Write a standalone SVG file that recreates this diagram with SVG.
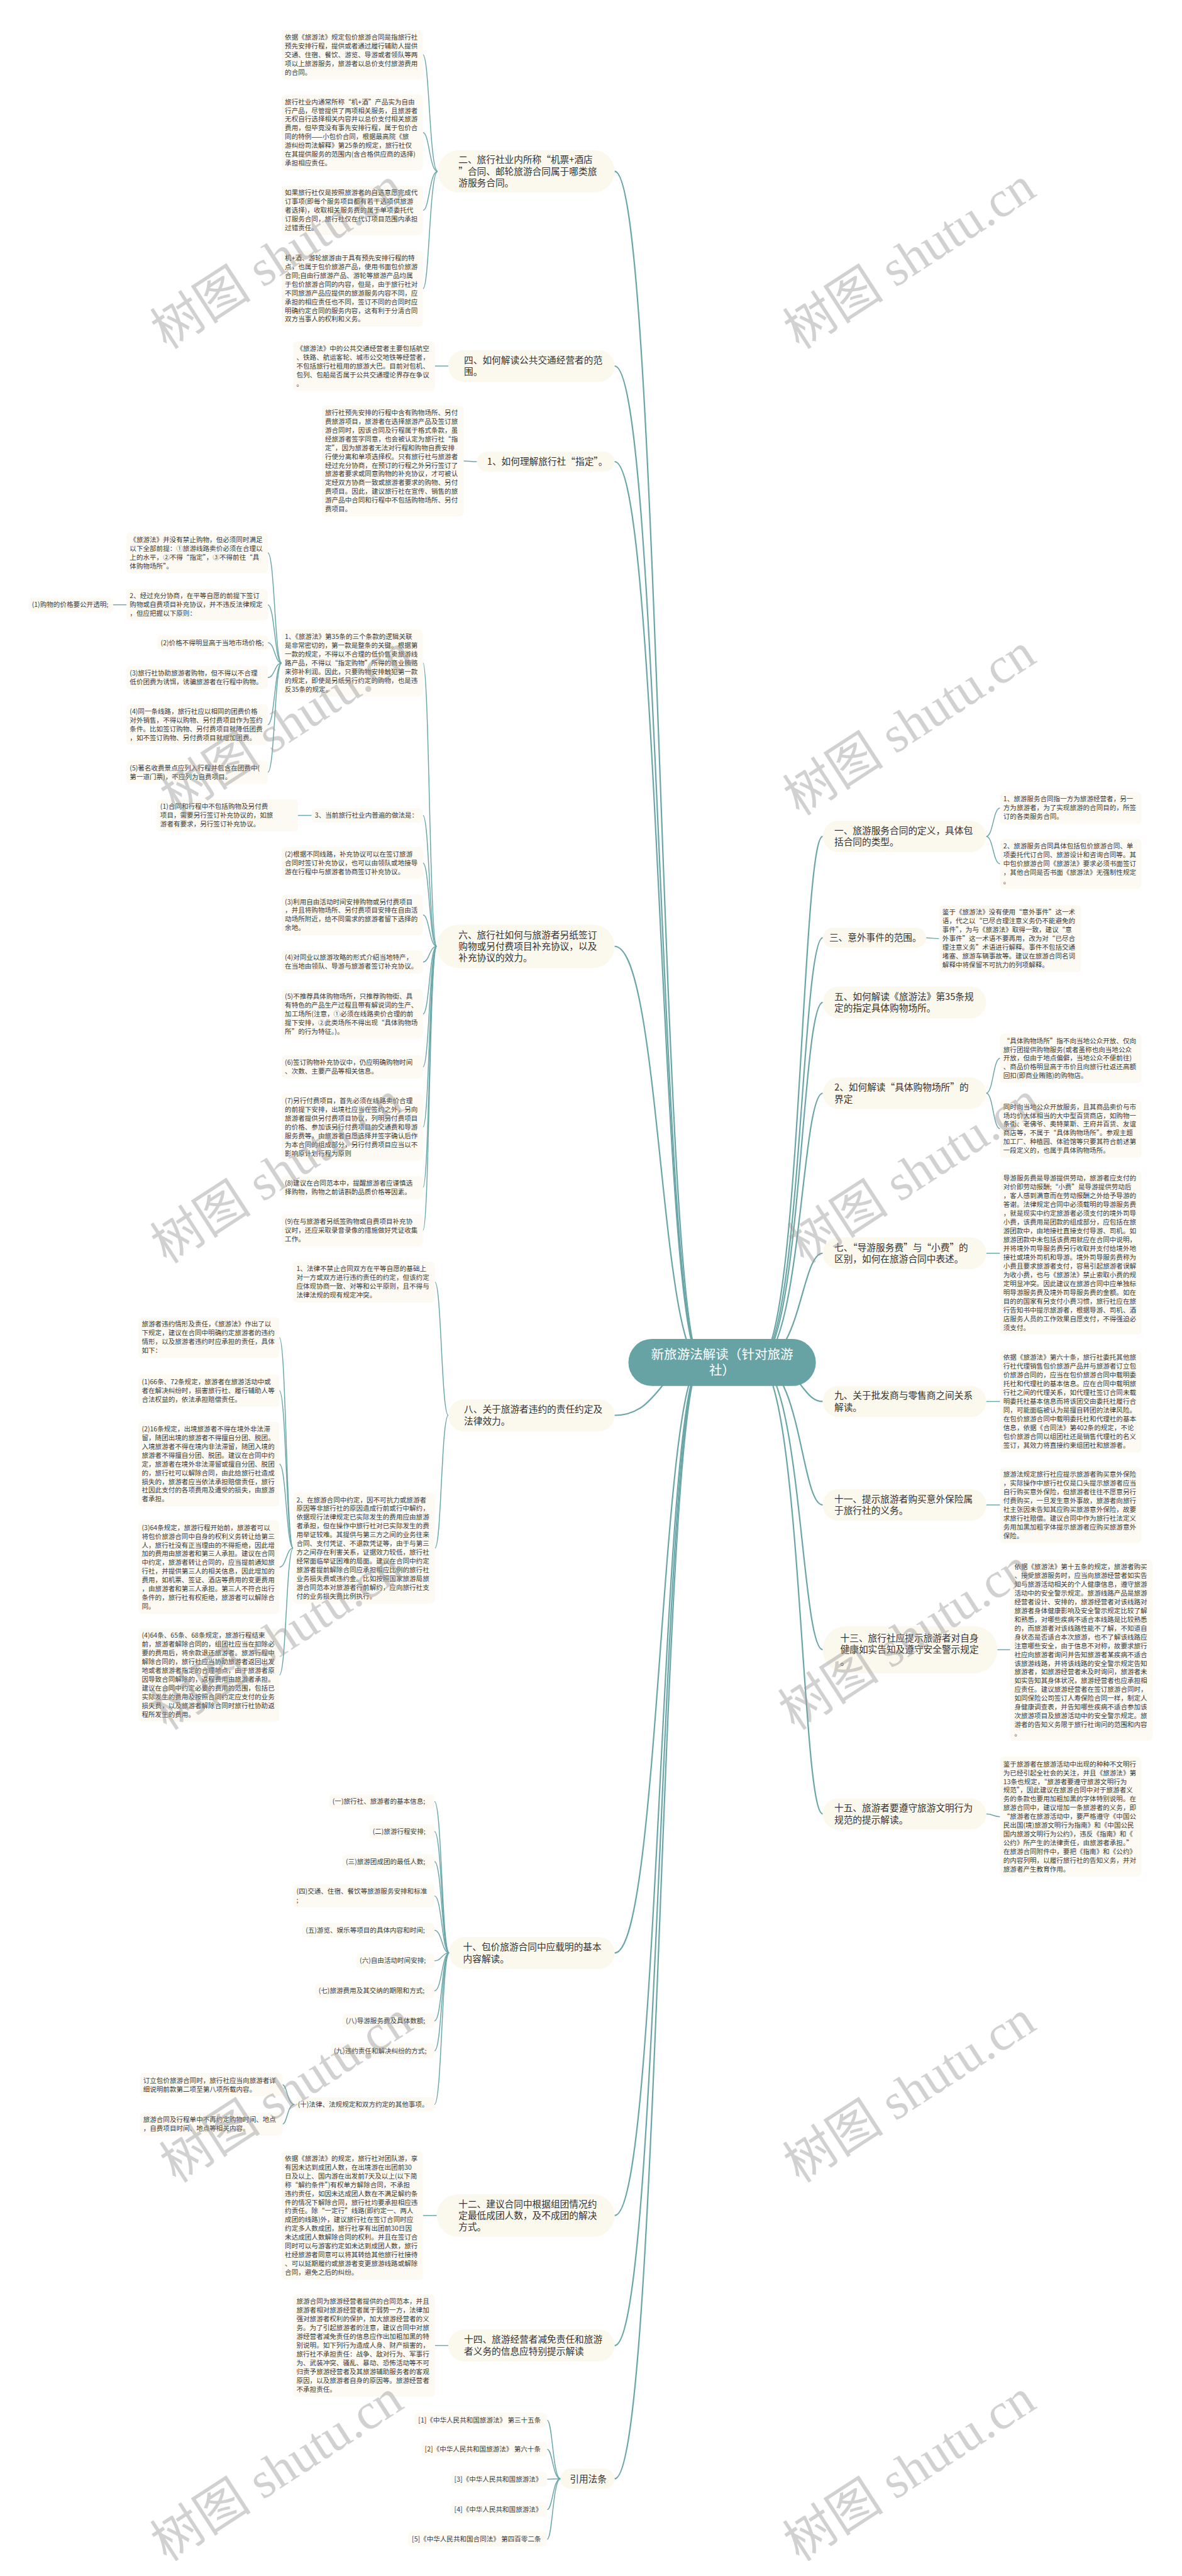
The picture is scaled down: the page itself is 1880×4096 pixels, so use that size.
<svg xmlns="http://www.w3.org/2000/svg" width="1880" height="4096" viewBox="0 0 1880 4096">
<style>
.bn{fill:#fbf8ee}
.dt{fill:#fcfaf2}
.rt{fill:#67a3a4}
.tb{font-family:"Noto Sans CJK SC","Noto Sans",sans-serif;font-size:20px;fill:#333}
.td{font-family:"Noto Sans CJK SC","Noto Sans",sans-serif;font-size:14.4px;fill:#3a3a3a}
.tr{font-family:"Noto Sans CJK SC","Noto Sans",sans-serif;font-size:28px;fill:#fff}
.c1{fill:none;stroke:#6aa6a8;stroke-width:3}
.c2{fill:none;stroke:#6aa6a8;stroke-width:2}
.wm{font-family:"Liberation Serif","Noto Sans CJK SC",serif;font-size:110px;fill:#9a9a9a;fill-opacity:0.45}
</style>
<rect width="1880" height="4096" fill="#fff"/>
<g transform="scale(0.734375)">
<g id="connectors">
<path class="c1" d="M1331,371 C1430,371 1430,2950 1520,2950"/>
<path class="c1" d="M1331,792.5 C1430,792.5 1430,2950 1520,2950"/>
<path class="c1" d="M1331,999.5 C1430,999.5 1430,2950 1520,2950"/>
<path class="c1" d="M1331,2049 C1430,2049 1430,2950 1520,2950"/>
<path class="c1" d="M1331,3064.5 C1430,3064.5 1430,2950 1520,2950"/>
<path class="c1" d="M1331,4228.5 C1430,4228.5 1430,2950 1520,2950"/>
<path class="c1" d="M1331,4797 C1430,4797 1430,2950 1520,2950"/>
<path class="c1" d="M1331,5078.5 C1430,5078.5 1430,2950 1520,2950"/>
<path class="c1" d="M1331,5367 C1430,5367 1430,2950 1520,2950"/>
<path class="c1" d="M1782,1811 C1735,1811 1735,2950 1640,2950"/>
<path class="c1" d="M1782,2030.5 C1735,2030.5 1735,2950 1640,2950"/>
<path class="c1" d="M1782,2170.5 C1735,2170.5 1735,2950 1640,2950"/>
<path class="c1" d="M1782,2367 C1735,2367 1735,2950 1640,2950"/>
<path class="c1" d="M1782,2713.5 C1735,2713.5 1735,2950 1640,2950"/>
<path class="c1" d="M1782,3034.5 C1735,3034.5 1735,2950 1640,2950"/>
<path class="c1" d="M1782,3258.5 C1735,3258.5 1735,2950 1640,2950"/>
<path class="c1" d="M1782,3572 C1735,3572 1735,2950 1640,2950"/>
<path class="c1" d="M1782,3927.5 C1735,3927.5 1735,2950 1640,2950"/>
<path class="c2" d="M948,371 C930,371 930,118.5 916,118.5"/>
<path class="c2" d="M948,371 C930,371 930,287 916,287"/>
<path class="c2" d="M948,371 C930,371 930,455.5 916,455.5"/>
<path class="c2" d="M948,371 C930,371 930,625 916,625"/>
<path class="c2" d="M971,792.5 L942,792.5"/>
<path class="c2" d="M1033,999.5 C1018,999.5 1018,998 1004,998"/>
<path class="c2" d="M946,2049 C930,2049 930,1435.5 916,1435.5"/>
<path class="c2" d="M946,2049 C930,2049 930,1765.5 916,1765.5"/>
<path class="c2" d="M946,2049 C930,2049 930,1868.5 916,1868.5"/>
<path class="c2" d="M946,2049 C930,2049 930,1981 916,1981"/>
<path class="c2" d="M946,2049 C930,2049 930,2083 916,2083"/>
<path class="c2" d="M946,2049 C930,2049 930,2195.5 916,2195.5"/>
<path class="c2" d="M946,2049 C930,2049 930,2310 916,2310"/>
<path class="c2" d="M946,2049 C930,2049 930,2440.5 916,2440.5"/>
<path class="c2" d="M946,2049 C930,2049 930,2571 916,2571"/>
<path class="c2" d="M946,2049 C930,2049 930,2663.5 916,2663.5"/>
<path class="c2" d="M610,1435.5 C595,1435.5 595,1197 580,1197"/>
<path class="c2" d="M610,1435.5 C595,1435.5 595,1309.5 580,1309.5"/>
<path class="c2" d="M610,1435.5 C595,1435.5 595,1391.5 580,1391.5"/>
<path class="c2" d="M610,1435.5 C595,1435.5 595,1467 580,1467"/>
<path class="c2" d="M610,1435.5 C595,1435.5 595,1569 580,1569"/>
<path class="c2" d="M610,1435.5 C595,1435.5 595,1672 580,1672"/>
<path class="c2" d="M274,1309.5 L245,1309.5"/>
<path class="c2" d="M675,1765.5 L645,1765.5"/>
<path class="c2" d="M971,3064.5 C956,3064.5 956,2776 942,2776"/>
<path class="c2" d="M971,3064.5 C956,3064.5 956,3352 942,3352"/>
<path class="c2" d="M635,3352 C620,3352 620,2896 605,2896"/>
<path class="c2" d="M635,3352 C620,3352 620,3011 605,3011"/>
<path class="c2" d="M635,3352 C620,3352 620,3170 605,3170"/>
<path class="c2" d="M635,3352 C620,3352 620,3393 605,3393"/>
<path class="c2" d="M635,3352 C620,3352 620,3627 605,3627"/>
<path class="c2" d="M973,4228.5 C957,4228.5 957,3900.5 941,3900.5"/>
<path class="c2" d="M973,4228.5 C957,4228.5 957,3965.5 941,3965.5"/>
<path class="c2" d="M973,4228.5 C957,4228.5 957,4030.5 941,4030.5"/>
<path class="c2" d="M973,4228.5 C957,4228.5 957,4105 941,4105"/>
<path class="c2" d="M973,4228.5 C957,4228.5 957,4179.5 941,4179.5"/>
<path class="c2" d="M973,4228.5 C957,4228.5 957,4245.5 941,4245.5"/>
<path class="c2" d="M973,4228.5 C957,4228.5 957,4310.5 941,4310.5"/>
<path class="c2" d="M973,4228.5 C957,4228.5 957,4375.5 941,4375.5"/>
<path class="c2" d="M973,4228.5 C957,4228.5 957,4440.5 941,4440.5"/>
<path class="c2" d="M973,4228.5 C957,4228.5 957,4556.5 941,4556.5"/>
<path class="c2" d="M638,4556.5 C622,4556.5 622,4514 612,4514"/>
<path class="c2" d="M638,4556.5 C622,4556.5 622,4599 612,4599"/>
<path class="c2" d="M946,4797 L916,4797"/>
<path class="c2" d="M971,5078.5 L942,5078.5"/>
<path class="c2" d="M1214,5367 C1197,5367 1197,5240 1185,5240"/>
<path class="c2" d="M1214,5367 C1197,5367 1197,5303 1185,5303"/>
<path class="c2" d="M1214,5367 C1197,5367 1197,5368 1185,5368"/>
<path class="c2" d="M1214,5367 C1197,5367 1197,5434 1185,5434"/>
<path class="c2" d="M1214,5367 C1197,5367 1197,5498 1185,5498"/>
<path class="c2" d="M2136,1811 C2151,1811 2151,1749.5 2166,1749.5"/>
<path class="c2" d="M2136,1811 C2151,1811 2151,1870.5 2166,1870.5"/>
<path class="c2" d="M2006,2030.5 C2020,2030.5 2020,2032.5 2034,2032.5"/>
<path class="c2" d="M2136,2367 C2151,2367 2151,2291.5 2166,2291.5"/>
<path class="c2" d="M2136,2367 C2151,2367 2151,2444 2166,2444"/>
<path class="c2" d="M2136,2713.5 L2166,2713.5"/>
<path class="c2" d="M2136,3034.5 L2166,3034.5"/>
<path class="c2" d="M2136,3258.5 L2166,3258.5"/>
<path class="c2" d="M2160,3572 L2188,3572"/>
<path class="c2" d="M2136,3927.5 C2151,3927.5 2151,3933.5 2166,3933.5"/>
</g>

<g id="root">
<rect class="rt" x="1361" y="2899" width="406" height="102" rx="51"/>
<text class="tr" text-anchor="middle"><tspan x="1564" y="2943">新旅游法解读（针对旅游</tspan><tspan x="1564" y="2977">社）</tspan></text>
</g>

<g id="b2">
<rect class="bn" x="948" y="325" width="383" height="92" rx="46"/>
<text class="tb"><tspan x="993" y="353">二、旅行社业内所称“机票+酒店</tspan><tspan x="993" y="378">”合同、邮轮旅游合同属于哪类旅</tspan><tspan x="993" y="403">游服务合同。</tspan></text>
</g>
<g id="b2a">
<rect class="dt" x="610" y="65" width="306" height="107" rx="8"/>
<text class="td"><tspan x="617" y="85.5">依据《旅游法》规定包价旅游合同是指旅行社</tspan><tspan x="617" y="104.5">预先安排行程，提供或者通过履行辅助人提供</tspan><tspan x="617" y="123.5">交通、住宿、餐饮、游览、导游或者领队等两</tspan><tspan x="617" y="142.5">项以上旅游服务，旅游者以总价支付旅游费用</tspan><tspan x="617" y="161.5">的合同。</tspan></text>
</g>
<g id="b2b">
<rect class="dt" x="610" y="205" width="306" height="164" rx="8"/>
<text class="td"><tspan x="617" y="225.5">旅行社业内通常所称“机+酒”产品实为自由</tspan><tspan x="617" y="244.5">行产品，尽管提供了两项相关服务，且旅游者</tspan><tspan x="617" y="263.5">无权自行选择相关内容并以总价支付相关旅游</tspan><tspan x="617" y="282.5">费用，但毕竟没有事先安排行程，属于包价合</tspan><tspan x="617" y="301.5">同的特例——小包价合同，根据最高院《旅</tspan><tspan x="617" y="320.5">游纠纷司法解释》第25条的规定，旅行社仅</tspan><tspan x="617" y="339.5">在其提供服务的范围内(含合格供应商的选择)</tspan><tspan x="617" y="358.5">承担相应责任。</tspan></text>
</g>
<g id="b2c">
<rect class="dt" x="610" y="402" width="306" height="107" rx="8"/>
<text class="td"><tspan x="617" y="422.5">如果旅行社仅是按照旅游者的自选意愿完成代</tspan><tspan x="617" y="441.5">订事项(即每个服务项目都有若干选项供旅游</tspan><tspan x="617" y="460.5">者选择)，收取相关服务费的属于单项委托代</tspan><tspan x="617" y="479.5">订服务合同，旅行社仅在代订项目范围内承担</tspan><tspan x="617" y="498.5">过错责任。</tspan></text>
</g>
<g id="b2d">
<rect class="dt" x="610" y="543" width="306" height="164" rx="8"/>
<text class="td"><tspan x="617" y="563.5">机+酒、游轮旅游由于具有预先安排行程的特</tspan><tspan x="617" y="582.5">点，也属于包价旅游产品，使用书面包价旅游</tspan><tspan x="617" y="601.5">合同;自由行旅游产品、游轮等旅游产品均属</tspan><tspan x="617" y="620.5">于包价旅游合同的内容，但是，由于旅行社对</tspan><tspan x="617" y="639.5">不同旅游产品应提供的旅游服务内容不同，应</tspan><tspan x="617" y="658.5">承担的相应责任也不同，签订不同的合同时应</tspan><tspan x="617" y="677.5">明确约定合同的服务内容，这有利于分清合同</tspan><tspan x="617" y="696.5">双方当事人的权利和义务。</tspan></text>
</g>

<g id="b4">
<rect class="bn" x="971" y="758" width="360" height="69" rx="34"/>
<text class="tb"><tspan x="1005" y="787">四、如何解读公共交通经营者的范</tspan><tspan x="1005" y="812">围。</tspan></text>
</g>
<g id="b4a">
<rect class="dt" x="635" y="739" width="307" height="107" rx="8"/>
<text class="td"><tspan x="642" y="759.5">《旅游法》中的公共交通经营者主要包括航空</tspan><tspan x="642" y="778.5">、铁路、航运客轮、城市公交地铁等经营者，</tspan><tspan x="642" y="797.5">不包括旅行社租用的旅游大巴。目前对包机、</tspan><tspan x="642" y="816.5">包列、包船是否属于公共交通理论界存在争议</tspan><tspan x="642" y="835.5">。</tspan></text>
</g>

<g id="bz">
<rect class="bn" x="1033" y="978" width="298" height="43" rx="21.5"/>
<text class="tb"><tspan x="1055" y="1006.5">1、如何理解旅行社“指定”。</tspan></text>
</g>
<g id="bza">
<rect class="dt" x="697" y="878" width="307" height="240" rx="8"/>
<text class="td"><tspan x="704" y="898.5">旅行社预先安排的行程中含有购物场所、另付</tspan><tspan x="704" y="917.5">费旅游项目，旅游者在选择旅游产品及签订旅</tspan><tspan x="704" y="936.5">游合同时，因该合同及行程属于格式条款，虽</tspan><tspan x="704" y="955.5">经旅游者签字同意，也会被认定为旅行社“指</tspan><tspan x="704" y="974.5">定”，因为旅游者无法对行程和购物自费安排</tspan><tspan x="704" y="993.5">行使分离和单项选择权。只有旅行社与旅游者</tspan><tspan x="704" y="1012.5">经过充分协商，在预订的行程之外另行签订了</tspan><tspan x="704" y="1031.5">旅游者要求或同意购物的补充协议，才可被认</tspan><tspan x="704" y="1050.5">定经双方协商一致或旅游者要求的购物、另付</tspan><tspan x="704" y="1069.5">费项目。因此，建议旅行社在宣传、销售的旅</tspan><tspan x="704" y="1088.5">游产品中合同和行程中不包括购物场所、另付</tspan><tspan x="704" y="1107.5">费项目。</tspan></text>
</g>

<g id="b6">
<rect class="bn" x="946" y="2002" width="385" height="94" rx="47"/>
<text class="tb"><tspan x="993" y="2031">六、旅行社如何与旅游者另纸签订</tspan><tspan x="993" y="2056">购物或另付费项目补充协议，以及</tspan><tspan x="993" y="2081">补充协议的效力。</tspan></text>
</g>
<g id="b6-1">
<rect class="dt" x="610" y="1363" width="306" height="145" rx="8"/>
<text class="td"><tspan x="617" y="1383.5">1、《旅游法》第35条的三个条款的逻辑关联</tspan><tspan x="617" y="1402.5">是非常密切的，第一款是整条的关键。根据第</tspan><tspan x="617" y="1421.5">一款的规定，不得以不合理的低价售卖旅游线</tspan><tspan x="617" y="1440.5">路产品，不得以“指定购物”所得的商业贿赂</tspan><tspan x="617" y="1459.5">来弥补利润。因此，只要购物安排触犯第一款</tspan><tspan x="617" y="1478.5">的规定，即使是另纸另行约定的购物，也是违</tspan><tspan x="617" y="1497.5">反35条的规定。</tspan></text>
</g>
<g id="b6-1a">
<rect class="dt" x="274" y="1153" width="306" height="88" rx="8"/>
<text class="td"><tspan x="281" y="1173.5">《旅游法》并没有禁止购物，但必须同时满足</tspan><tspan x="281" y="1192.5">以下全部前提：①旅游线路卖价必须在合理以</tspan><tspan x="281" y="1211.5">上的水平，②不得“指定”，③不得前往“具</tspan><tspan x="281" y="1230.5">体购物场所”。</tspan></text>
</g>
<g id="b6-1b">
<rect class="dt" x="274" y="1275" width="306" height="69" rx="8"/>
<text class="td"><tspan x="281" y="1295.5">2、经过充分协商，在平等自愿的前提下签订</tspan><tspan x="281" y="1314.5">购物或自费项目补充协议，并不违反法律规定</tspan><tspan x="281" y="1333.5">，但应把握以下原则：</tspan></text>
</g>
<g id="b6-1b1">
<rect class="dt" x="62" y="1294" width="183" height="31" rx="8"/>
<text class="td"><tspan x="69" y="1314.5">(1)购物的价格要公开透明;</tspan></text>
</g>
<g id="b6-1c">
<rect class="dt" x="341" y="1376" width="239" height="31" rx="8"/>
<text class="td"><tspan x="348" y="1396.5">(2)价格不得明显高于当地市场价格;</tspan></text>
</g>
<g id="b6-1d">
<rect class="dt" x="274" y="1442" width="306" height="50" rx="8"/>
<text class="td"><tspan x="281" y="1462.5">(3)旅行社协助旅游者购物，但不得以不合理</tspan><tspan x="281" y="1481.5">低价团费为诱饵，诱骗旅游者在行程中购物。</tspan></text>
</g>
<g id="b6-1e">
<rect class="dt" x="274" y="1525" width="306" height="88" rx="8"/>
<text class="td"><tspan x="281" y="1545.5">(4)同一条线路，旅行社应以相同的团费价格</tspan><tspan x="281" y="1564.5">对外销售，不得以购物、另付费项目作为签约</tspan><tspan x="281" y="1583.5">条件。比如签订购物、另付费项目就降低团费</tspan><tspan x="281" y="1602.5">，如不签订购物、另付费项目就增加团费。</tspan></text>
</g>
<g id="b6-1f">
<rect class="dt" x="274" y="1647" width="306" height="50" rx="8"/>
<text class="td"><tspan x="281" y="1667.5">(5)著名收费景点应列入行程并包含在团费中(</tspan><tspan x="281" y="1686.5">第一道门票)，不应列为自费项目。</tspan></text>
</g>
<g id="b6-3">
<rect class="dt" x="675" y="1750" width="241" height="31" rx="8"/>
<text class="td"><tspan x="682" y="1770.5">3、当前旅行社业内普遍的做法是：</tspan></text>
</g>
<g id="b6-3a">
<rect class="dt" x="340" y="1731" width="305" height="69" rx="8"/>
<text class="td"><tspan x="347" y="1751.5">(1)合同和行程中不包括购物及另付费</tspan><tspan x="347" y="1770.5">项目，需要另行签订补充协议的，如旅</tspan><tspan x="347" y="1789.5">游者有要求，另行签订补充协议。</tspan></text>
</g>
<g id="b6-p2">
<rect class="dt" x="610" y="1834" width="306" height="69" rx="8"/>
<text class="td"><tspan x="617" y="1854.5">(2)根据不同线路，补充协议可以在签订旅游</tspan><tspan x="617" y="1873.5">合同时签订补充协议，也可以由领队或地接导</tspan><tspan x="617" y="1892.5">游在行程中与旅游者协商签订补充协议。</tspan></text>
</g>
<g id="b6-p3">
<rect class="dt" x="610" y="1937" width="306" height="88" rx="8"/>
<text class="td"><tspan x="617" y="1957.5">(3)利用自由活动时间安排购物或另付费项目</tspan><tspan x="617" y="1976.5">，并且将购物场所、另付费项目安排在自由活</tspan><tspan x="617" y="1995.5">动场所附近，给不同需求的旅游者留下选择的</tspan><tspan x="617" y="2014.5">余地。</tspan></text>
</g>
<g id="b6-p4">
<rect class="dt" x="610" y="2058" width="306" height="50" rx="8"/>
<text class="td"><tspan x="617" y="2078.5">(4)对同业以旅游攻略的形式介绍当地特产，</tspan><tspan x="617" y="2097.5">在当地由领队、导游与旅游者签订补充协议。</tspan></text>
</g>
<g id="b6-p5">
<rect class="dt" x="610" y="2142" width="306" height="107" rx="8"/>
<text class="td"><tspan x="617" y="2162.5">(5)不推荐具体购物场所，只推荐购物街、具</tspan><tspan x="617" y="2181.5">有特色的产品生产过程且带有解说词的生产、</tspan><tspan x="617" y="2200.5">加工场所(注意，①必须在线路卖价合理的前</tspan><tspan x="617" y="2219.5">提下安排，②此类场所不得出现“具体购物场</tspan><tspan x="617" y="2238.5">所”的行为特征。)。</tspan></text>
</g>
<g id="b6-p6">
<rect class="dt" x="610" y="2285" width="306" height="50" rx="8"/>
<text class="td"><tspan x="617" y="2305.5">(6)签订购物补充协议中，仍应明确购物时间</tspan><tspan x="617" y="2324.5">、次数、主要产品等相关信息。</tspan></text>
</g>
<g id="b6-p7">
<rect class="dt" x="610" y="2368" width="306" height="145" rx="8"/>
<text class="td"><tspan x="617" y="2388.5">(7)另行付费项目，首先必须在线路卖价合理</tspan><tspan x="617" y="2407.5">的前提下安排，出境社应当在签约之外，另向</tspan><tspan x="617" y="2426.5">旅游者提供另付费项目协议，列明另付费项目</tspan><tspan x="617" y="2445.5">的价格、参加该另行付费项目的交通费和导游</tspan><tspan x="617" y="2464.5">服务费等，由旅游者自愿选择并签字确认后作</tspan><tspan x="617" y="2483.5">为本合同的组成部分，另行付费项目应当以不</tspan><tspan x="617" y="2502.5">影响原计划行程为原则</tspan></text>
</g>
<g id="b6-p8">
<rect class="dt" x="610" y="2546" width="306" height="50" rx="8"/>
<text class="td"><tspan x="617" y="2566.5">(8)建议在合同范本中，提醒旅游者应谨慎选</tspan><tspan x="617" y="2585.5">择购物，购物之前请斟酌品质价格等因素。</tspan></text>
</g>
<g id="b6-p9">
<rect class="dt" x="610" y="2629" width="306" height="69" rx="8"/>
<text class="td"><tspan x="617" y="2649.5">(9)在与旅游者另纸签购物或自费项目补充协</tspan><tspan x="617" y="2668.5">议时，还应采取录音录像的措施做好凭证收集</tspan><tspan x="617" y="2687.5">工作。</tspan></text>
</g>

<g id="b8">
<rect class="bn" x="971" y="3030" width="360" height="69" rx="34"/>
<text class="tb"><tspan x="1005" y="3059">八、关于旅游者违约的责任约定及</tspan><tspan x="1005" y="3084">法律效力。</tspan></text>
</g>
<g id="b8-1">
<rect class="dt" x="635" y="2732" width="307" height="88" rx="8"/>
<text class="td"><tspan x="642" y="2752.5">1、法律不禁止合同双方在平等自愿的基础上</tspan><tspan x="642" y="2771.5">对一方或双方进行违约责任的约定，但该约定</tspan><tspan x="642" y="2790.5">应体现协商一致、对等和公平原则，且不得与</tspan><tspan x="642" y="2809.5">法律法规的现有规定冲突。</tspan></text>
</g>
<g id="b8-2">
<rect class="dt" x="635" y="3232" width="307" height="240" rx="8"/>
<text class="td"><tspan x="642" y="3252.5">2、在旅游合同中约定，因不可抗力或旅游者</tspan><tspan x="642" y="3271.5">原因等非旅行社的原因造成行前或行中解约，</tspan><tspan x="642" y="3290.5">依据现行法律规定已实际发生的费用应由旅游</tspan><tspan x="642" y="3309.5">者承担，但在操作中旅行社对已实际发生的费</tspan><tspan x="642" y="3328.5">用举证较难。其提供与第三方之间的业务往来</tspan><tspan x="642" y="3347.5">合同、支付凭证、不退款凭证等，由于与第三</tspan><tspan x="642" y="3366.5">方之间存在利害关系，证据效力较低，旅行社</tspan><tspan x="642" y="3385.5">经常面临举证困难的局面。建议在合同中约定</tspan><tspan x="642" y="3404.5">旅游者提前解除合同应承担相应比例的旅行社</tspan><tspan x="642" y="3423.5">业务损失费或违约金。比如按照国家旅游局旅</tspan><tspan x="642" y="3442.5">游合同范本对旅游者行前解约，应向旅行社支</tspan><tspan x="642" y="3461.5">付的业务损失费比例执行。</tspan></text>
</g>
<g id="b8-2a">
<rect class="dt" x="300" y="2852" width="305" height="88" rx="8"/>
<text class="td"><tspan x="307" y="2872.5">旅游者违约情形及责任，《旅游法》作出了以</tspan><tspan x="307" y="2891.5">下规定，建议在合同中明确约定旅游者的违约</tspan><tspan x="307" y="2910.5">情形，以及旅游者违约时应承担的责任，具体</tspan><tspan x="307" y="2929.5">如下：</tspan></text>
</g>
<g id="b8-2b">
<rect class="dt" x="300" y="2976.5" width="305" height="69" rx="8"/>
<text class="td"><tspan x="307" y="2997">(1)66条、72条规定，旅游者在旅游活动中或</tspan><tspan x="307" y="3016">者在解决纠纷时，损害旅行社、履行辅助人等</tspan><tspan x="307" y="3035">合法权益的，依法承担赔偿责任。</tspan></text>
</g>
<g id="b8-2c">
<rect class="dt" x="300" y="3078.5" width="305" height="183" rx="8"/>
<text class="td"><tspan x="307" y="3099">(2)16条规定，出境旅游者不得在境外非法滞</tspan><tspan x="307" y="3118">留，随团出境的旅游者不得擅自分团、脱团。</tspan><tspan x="307" y="3137">入境旅游者不得在境内非法滞留，随团入境的</tspan><tspan x="307" y="3156">旅游者不得擅自分团、脱团。建议在合同中约</tspan><tspan x="307" y="3175">定，旅游者在境外非法滞留或擅自分团、脱团</tspan><tspan x="307" y="3194">的，旅行社可以解除合同，由此给旅行社造成</tspan><tspan x="307" y="3213">损失的，旅游者应当依法承担赔偿责任，旅行</tspan><tspan x="307" y="3232">社因此支付的各项费用及遭受的损失，由旅游</tspan><tspan x="307" y="3251">者承担。</tspan></text>
</g>
<g id="b8-2d">
<rect class="dt" x="300" y="3292" width="305" height="202" rx="8"/>
<text class="td"><tspan x="307" y="3312.5">(3)64条规定，旅游行程开始前，旅游者可以</tspan><tspan x="307" y="3331.5">将包价旅游合同中自身的权利义务转让给第三</tspan><tspan x="307" y="3350.5">人，旅行社没有正当理由的不得拒绝，因此增</tspan><tspan x="307" y="3369.5">加的费用由旅游者和第三人承担。建议在合同</tspan><tspan x="307" y="3388.5">中约定，旅游者转让合同的，应当提前通知旅</tspan><tspan x="307" y="3407.5">行社，并提供第三人的相关信息，因此增加的</tspan><tspan x="307" y="3426.5">费用，如机票、签证、酒店等费用的变更费用</tspan><tspan x="307" y="3445.5">，由旅游者和第三人承担。第三人不符合出行</tspan><tspan x="307" y="3464.5">条件的，旅行社有权拒绝，旅游者可以解除合</tspan><tspan x="307" y="3483.5">同。</tspan></text>
</g>
<g id="b8-2e">
<rect class="dt" x="300" y="3526" width="305" height="202" rx="8"/>
<text class="td"><tspan x="307" y="3546.5">(4)64条、65条、68条规定，旅游行程结束</tspan><tspan x="307" y="3565.5">前，旅游者解除合同的，组团社应当在扣除必</tspan><tspan x="307" y="3584.5">要的费用后，将余款退还旅游者。旅游行程中</tspan><tspan x="307" y="3603.5">解除合同的，旅行社应当协助旅游者返回出发</tspan><tspan x="307" y="3622.5">地或者旅游者指定的合理地点，由于旅游者原</tspan><tspan x="307" y="3641.5">因导致合同解除的，返程费用由旅游者承担。</tspan><tspan x="307" y="3660.5">建议在合同中约定必要的费用的范围，包括已</tspan><tspan x="307" y="3679.5">实际发生的费用及按照合同约定应支付的业务</tspan><tspan x="307" y="3698.5">损失费，以及旅游者解除合同时旅行社协助返</tspan><tspan x="307" y="3717.5">程所发生的费用。</tspan></text>
</g>

<g id="b10">
<rect class="bn" x="973" y="4194" width="358" height="69" rx="34"/>
<text class="tb"><tspan x="1003" y="4223">十、包价旅游合同中应载明的基本</tspan><tspan x="1003" y="4248">内容解读。</tspan></text>
</g>
<g id="b10-1"><rect class="dt" x="713" y="3885" width="228" height="31" rx="8"/><text class="td"><tspan x="720" y="3905.5">(一)旅行社、旅游者的基本信息;</tspan></text></g>
<g id="b10-2"><rect class="dt" x="800" y="3950" width="141" height="31" rx="8"/><text class="td"><tspan x="807" y="3970.5">(二)旅游行程安排;</tspan></text></g>
<g id="b10-3"><rect class="dt" x="742" y="4015" width="199" height="31" rx="8"/><text class="td"><tspan x="749" y="4035.5">(三)旅游团成团的最低人数;</tspan></text></g>
<g id="b10-4"><rect class="dt" x="635" y="4080" width="306" height="50" rx="8"/><text class="td"><tspan x="642" y="4100.5">(四)交通、住宿、餐饮等旅游服务安排和标准</tspan><tspan x="642" y="4119.5">;</tspan></text></g>
<g id="b10-5"><rect class="dt" x="655" y="4164" width="286" height="31" rx="8"/><text class="td"><tspan x="662" y="4184.5">(五)游览、娱乐等项目的具体内容和时间;</tspan></text></g>
<g id="b10-6"><rect class="dt" x="772" y="4230" width="169" height="31" rx="8"/><text class="td"><tspan x="779" y="4250.5">(六)自由活动时间安排;</tspan></text></g>
<g id="b10-7"><rect class="dt" x="683" y="4295" width="258" height="31" rx="8"/><text class="td"><tspan x="690" y="4315.5">(七)旅游费用及其交纳的期限和方式;</tspan></text></g>
<g id="b10-8"><rect class="dt" x="742" y="4360" width="199" height="31" rx="8"/><text class="td"><tspan x="749" y="4380.5">(八)导游服务费及具体数额;</tspan></text></g>
<g id="b10-9"><rect class="dt" x="716" y="4425" width="225" height="31" rx="8"/><text class="td"><tspan x="723" y="4445.5">(九)违约责任和解决纠纷的方式;</tspan></text></g>
<g id="b10-10"><rect class="dt" x="638" y="4541" width="303" height="31" rx="8"/><text class="td"><tspan x="645" y="4561.5">(十)法律、法规规定和双方约定的其他事项。</tspan></text></g>
<g id="b10-10a"><rect class="dt" x="303" y="4489" width="309" height="50" rx="8"/><text class="td"><tspan x="310" y="4509.5">订立包价旅游合同时，旅行社应当向旅游者详</tspan><tspan x="310" y="4528.5">细说明前款第二项至第八项所载内容。</tspan></text></g>
<g id="b10-10b"><rect class="dt" x="303" y="4574" width="309" height="50" rx="8"/><text class="td"><tspan x="310" y="4594.5">旅游合同及行程单中不再约定购物时间、地点</tspan><tspan x="310" y="4613.5">，自费项目时间、地点等相关内容。</tspan></text></g>

<g id="b12">
<rect class="bn" x="946" y="4751" width="385" height="92" rx="46"/>
<text class="tb"><tspan x="993" y="4779">十二、建议合同中根据组团情况约</tspan><tspan x="993" y="4804">定最低成团人数，及不成团的解决</tspan><tspan x="993" y="4829">方式。</tspan></text>
</g>
<g id="b12a">
<rect class="dt" x="610" y="4658" width="306" height="278" rx="8"/>
<text class="td"><tspan x="617" y="4678.5">依据《旅游法》的规定，旅行社对团队游，享</tspan><tspan x="617" y="4697.5">有因未达到成团人数，在出境游在出团前30</tspan><tspan x="617" y="4716.5">日及以上、国内游在出发前7天及以上(以下简</tspan><tspan x="617" y="4735.5">称“解约条件”)有权单方解除合同，不承担</tspan><tspan x="617" y="4754.5">违约责任，如因未达成团人数在不满足解约条</tspan><tspan x="617" y="4773.5">件的情况下解除合同，旅行社均要承担相应违</tspan><tspan x="617" y="4792.5">约责任。除“一定行”线路(即约定一、两人</tspan><tspan x="617" y="4811.5">成团的线路)外，建议旅行社在签订合同时应</tspan><tspan x="617" y="4830.5">约定多人数成团，旅行社享有出团前30日因</tspan><tspan x="617" y="4849.5">未达成团人数解除合同的权利。并且在签订合</tspan><tspan x="617" y="4868.5">同时可以与游客约定如未达到成团人数，旅行</tspan><tspan x="617" y="4887.5">社经旅游者同意可以将其转给其他旅行社接待</tspan><tspan x="617" y="4906.5">、可以延期履约或旅游者变更旅游线路或解除</tspan><tspan x="617" y="4925.5">合同，避免之后的纠纷。</tspan></text>
</g>

<g id="b14">
<rect class="bn" x="971" y="5044" width="360" height="69" rx="34"/>
<text class="tb"><tspan x="1005" y="5073">十四、旅游经营者减免责任和旅游</tspan><tspan x="1005" y="5098">者义务的信息应特别提示解读</tspan></text>
</g>
<g id="b14a">
<rect class="dt" x="635" y="4968" width="307" height="221" rx="8"/>
<text class="td"><tspan x="642" y="4988.5">旅游合同为旅游经营者提供的合同范本，并且</tspan><tspan x="642" y="5007.5">旅游者相对旅游经营者属于弱势一方，法律加</tspan><tspan x="642" y="5026.5">强对旅游者权利的保护，加大旅游经营者的义</tspan><tspan x="642" y="5045.5">务。为了引起旅游者的注意，建议合同中对旅</tspan><tspan x="642" y="5064.5">游经营者减免责任的信息应作出加粗加黑的特</tspan><tspan x="642" y="5083.5">别说明。如下列行为造成人身、财产损害的，</tspan><tspan x="642" y="5102.5">旅行社不承担责任：战争、敌对行为、军事行</tspan><tspan x="642" y="5121.5">为、武装冲突、骚乱、暴动、恐怖活动等不可</tspan><tspan x="642" y="5140.5">归责予旅游经营者及其旅游辅助服务者的客观</tspan><tspan x="642" y="5159.5">原因，以及旅游者自身的原因等。旅游经营者</tspan><tspan x="642" y="5178.5">不承担责任。</tspan></text>
</g>

<g id="bref">
<rect class="bn" x="1214" y="5345" width="117" height="44" rx="22"/>
<text class="tb"><tspan x="1234" y="5374">引用法条</tspan></text>
</g>
<g id="ref1"><rect class="dt" x="898" y="5224" width="287" height="32" rx="8"/><text class="td"><tspan x="906" y="5245">[1]《中华人民共和国旅游法》 第三十五条</tspan></text></g>
<g id="ref2"><rect class="dt" x="912" y="5287" width="273" height="32" rx="8"/><text class="td"><tspan x="920" y="5308">[2]《中华人民共和国旅游法》 第六十条</tspan></text></g>
<g id="ref3"><rect class="dt" x="976" y="5352" width="209" height="32" rx="8"/><text class="td"><tspan x="984" y="5373">[3]《中华人民共和国旅游法》</tspan></text></g>
<g id="ref4"><rect class="dt" x="976" y="5418" width="209" height="32" rx="8"/><text class="td"><tspan x="984" y="5439">[4]《中华人民共和国旅游法》</tspan></text></g>
<g id="ref5"><rect class="dt" x="884" y="5482" width="301" height="32" rx="8"/><text class="td"><tspan x="892" y="5503">[5]《中华人民共和国合同法》 第四百零二条</tspan></text></g>

<g id="r1">
<rect class="bn" x="1782" y="1777" width="354" height="68" rx="34"/>
<text class="tb"><tspan x="1807" y="1805.5">一、旅游服务合同的定义，具体包</tspan><tspan x="1807" y="1830.5">括合同的类型。</tspan></text>
</g>
<g id="r1a">
<rect class="dt" x="2166" y="1715" width="306" height="69" rx="8"/>
<text class="td"><tspan x="2173" y="1735.5">1、旅游服务合同指一方为旅游经营者，另一</tspan><tspan x="2173" y="1754.5">方为旅游者，为了实现旅游的合同目的，所签</tspan><tspan x="2173" y="1773.5">订的各类服务合同。</tspan></text>
</g>
<g id="r1b">
<rect class="dt" x="2166" y="1817" width="306" height="107" rx="8"/>
<text class="td"><tspan x="2173" y="1837.5">2、旅游服务合同具体包括包价旅游合同、单</tspan><tspan x="2173" y="1856.5">项委托代订合同、旅游设计和咨询合同等。其</tspan><tspan x="2173" y="1875.5">中包价旅游合同《旅游法》要求必须书面签订</tspan><tspan x="2173" y="1894.5">，其他合同是否书面《旅游法》无强制性规定</tspan><tspan x="2173" y="1913.5">。</tspan></text>
</g>
<g id="r3">
<rect class="bn" x="1782" y="2009" width="224" height="43" rx="21.5"/>
<text class="tb"><tspan x="1796" y="2037.5">三、意外事件的范围。</tspan></text>
</g>
<g id="r3a">
<rect class="dt" x="2034" y="1960" width="307" height="145" rx="8"/>
<text class="td"><tspan x="2041" y="1980.5">鉴于《旅游法》没有使用“意外事件”这一术</tspan><tspan x="2041" y="1999.5">语，代之以“已尽合理注意义务仍不能避免的</tspan><tspan x="2041" y="2018.5">事件”，为与《旅游法》取得一致，建议“意</tspan><tspan x="2041" y="2037.5">外事件”这一术语不要再用，改为对“已尽合</tspan><tspan x="2041" y="2056.5">理注意义务”术语进行解释。事件不包括交通</tspan><tspan x="2041" y="2075.5">堵塞、旅游车辆事故等。建议在旅游合同名词</tspan><tspan x="2041" y="2094.5">解释中将保留不可抗力的列项解释。</tspan></text>
</g>
<g id="r5">
<rect class="bn" x="1782" y="2136" width="354" height="69" rx="34"/>
<text class="tb"><tspan x="1807" y="2165">五、如何解读《旅游法》第35条规</tspan><tspan x="1807" y="2190">定的指定具体购物场所。</tspan></text>
</g>
<g id="r2">
<rect class="bn" x="1782" y="2333" width="354" height="68" rx="34"/>
<text class="tb"><tspan x="1807" y="2361.5">2、如何解读“具体购物场所”的</tspan><tspan x="1807" y="2386.5">界定</tspan></text>
</g>
<g id="r2a">
<rect class="dt" x="2166" y="2238" width="306" height="107" rx="8"/>
<text class="td"><tspan x="2173" y="2258.5">“具体购物场所”指不向当地公众开放、仅向</tspan><tspan x="2173" y="2277.5">旅行团提供购物服务(或者虽称也向当地公众</tspan><tspan x="2173" y="2296.5">开放，但由于地点偏僻，当地公众不便前往)</tspan><tspan x="2173" y="2315.5">、商品价格明显高于市价且向旅行社返还高额</tspan><tspan x="2173" y="2334.5">回扣(即商业贿赂)的购物店。</tspan></text>
</g>
<g id="r2b">
<rect class="dt" x="2166" y="2381" width="306" height="126" rx="8"/>
<text class="td"><tspan x="2173" y="2401.5">同时向当地公众开放服务，且其商品卖价与市</tspan><tspan x="2173" y="2420.5">场均价大体相当的大中型百货商店，如购物一</tspan><tspan x="2173" y="2439.5">条街、老佛爷、奥特莱斯、王府井百货、友谊</tspan><tspan x="2173" y="2458.5">商店等，不属于“具体购物场所”。参观主题</tspan><tspan x="2173" y="2477.5">加工厂、种植园、体验馆等只要其符合前述第</tspan><tspan x="2173" y="2496.5">一段定义的，也属于具体购物场所。</tspan></text>
</g>
<g id="r7">
<rect class="bn" x="1782" y="2679" width="354" height="69" rx="34"/>
<text class="tb"><tspan x="1807" y="2708">七、“导游服务费”与“小费”的</tspan><tspan x="1807" y="2733">区别，如何在旅游合同中表述。</tspan></text>
</g>
<g id="r7a">
<rect class="dt" x="2166" y="2536" width="306" height="354" rx="8"/>
<text class="td"><tspan x="2173" y="2556.5">导游服务费是导游提供劳动，旅游者应支付的</tspan><tspan x="2173" y="2575.5">对价即劳动报酬;“小费”是导游提供劳动后</tspan><tspan x="2173" y="2594.5">，客人感到满意而在劳动报酬之外给予导游的</tspan><tspan x="2173" y="2613.5">答谢。法律规定合同中必须载明的导游服务费</tspan><tspan x="2173" y="2632.5">，就是现实中约定旅游者必须支付的境外司导</tspan><tspan x="2173" y="2651.5">小费，该费用是团款的组成部分，应包括在旅</tspan><tspan x="2173" y="2670.5">游团款中，由地接社直接支付导游、司机。如</tspan><tspan x="2173" y="2689.5">旅游团款中未包括该费用就应在合同中说明，</tspan><tspan x="2173" y="2708.5">并将境外司导服务费另行收取并支付给境外地</tspan><tspan x="2173" y="2727.5">接社或境外司机和导游。境外司导服务费称为</tspan><tspan x="2173" y="2746.5">小费且要求旅游者支付，容易引起旅游者误解</tspan><tspan x="2173" y="2765.5">为收小费，也与《旅游法》禁止索取小费的规</tspan><tspan x="2173" y="2784.5">定明显冲突。因此建议在旅游合同中应单独标</tspan><tspan x="2173" y="2803.5">明导游服务费及境外司导服务费的金额。如在</tspan><tspan x="2173" y="2822.5">目的的国家有另支付小费习惯，旅行社应在旅</tspan><tspan x="2173" y="2841.5">行告知书中提示旅游者，根据导游、司机、酒</tspan><tspan x="2173" y="2860.5">店服务人员的工作效果自愿支付，不得强迫必</tspan><tspan x="2173" y="2879.5">须支付。</tspan></text>
</g>
<g id="r9">
<rect class="bn" x="1782" y="3001" width="354" height="67" rx="33"/>
<text class="tb"><tspan x="1807" y="3029">九、关于批发商与零售商之间关系</tspan><tspan x="1807" y="3054">解读。</tspan></text>
</g>
<g id="r9a">
<rect class="dt" x="2166" y="2924" width="306" height="221" rx="8"/>
<text class="td"><tspan x="2173" y="2944.5">依据《旅游法》第六十条，旅行社委托其他旅</tspan><tspan x="2173" y="2963.5">行社代理销售包价旅游产品并与旅游者订立包</tspan><tspan x="2173" y="2982.5">价旅游合同的，应当在包价旅游合同中载明委</tspan><tspan x="2173" y="3001.5">托社和代理社的基本信息。应在合同中载明旅</tspan><tspan x="2173" y="3020.5">行社之间的代理关系，如代理社签订合同未载</tspan><tspan x="2173" y="3039.5">明委托社基本信息而将该团交由委托社履行合</tspan><tspan x="2173" y="3058.5">同，可能面临被认为是擅自转团的法律风险。</tspan><tspan x="2173" y="3077.5">在包价旅游合同中载明委托社和代理社的基本</tspan><tspan x="2173" y="3096.5">信息，依据《合同法》第402条的规定，不论</tspan><tspan x="2173" y="3115.5">包价旅游合同以组团社还是销售代理社的名义</tspan><tspan x="2173" y="3134.5">签订，其效力将直接约束组团社和旅游者。</tspan></text>
</g>
<g id="r11">
<rect class="bn" x="1782" y="3224" width="354" height="69" rx="34"/>
<text class="tb"><tspan x="1807" y="3253">十一、提示旅游者购买意外保险属</tspan><tspan x="1807" y="3278">于旅行社的义务。</tspan></text>
</g>
<g id="r11a">
<rect class="dt" x="2166" y="3177" width="306" height="164" rx="8"/>
<text class="td"><tspan x="2173" y="3197.5">旅游法规定旅行社应提示旅游者购买意外保险</tspan><tspan x="2173" y="3216.5">，实际操作中旅行社仅是口头提示旅游者应当</tspan><tspan x="2173" y="3235.5">自行购买意外保险，但旅游者往往不愿意另行</tspan><tspan x="2173" y="3254.5">付费购买，一旦发生意外事故，旅游者向旅行</tspan><tspan x="2173" y="3273.5">社主张因未告知其应购买旅游意外保险，故要</tspan><tspan x="2173" y="3292.5">求旅行社赔偿。建议合同中作为旅行社法定义</tspan><tspan x="2173" y="3311.5">务用加黑加粗字体提示旅游者应购买旅游意外</tspan><tspan x="2173" y="3330.5">保险。</tspan></text>
</g>
<g id="r13">
<rect class="bn" x="1782" y="3521" width="378" height="102" rx="50"/>
<text class="tb"><tspan x="1820" y="3554">十三、旅行社应提示旅游者对自身</tspan><tspan x="1820" y="3579">健康如实告知及遵守安全警示规定</tspan><tspan x="1820" y="3604">。</tspan></text>
</g>
<g id="r13a">
<rect class="dt" x="2188" y="3377" width="308" height="392" rx="8"/>
<text class="td"><tspan x="2197" y="3397.5">依据《旅游法》第十五条的规定，旅游者购买</tspan><tspan x="2197" y="3416.5">、接受旅游服务时，应当向旅游经营者如实告</tspan><tspan x="2197" y="3435.5">知与旅游活动相关的个人健康信息，遵守旅游</tspan><tspan x="2197" y="3454.5">活动中的安全警示规定。旅游线路产品是旅游</tspan><tspan x="2197" y="3473.5">经营者设计、安排的，旅游经营者对该线路对</tspan><tspan x="2197" y="3492.5">旅游者身体健康影响及安全警示规定比较了解</tspan><tspan x="2197" y="3511.5">和熟悉，对哪些疾病不适合本线路是比较熟悉</tspan><tspan x="2197" y="3530.5">的，而旅游者对该线路性能不了解，不知道自</tspan><tspan x="2197" y="3549.5">身状态是否适合本次旅游，也不了解该线路应</tspan><tspan x="2197" y="3568.5">注意哪些安全，由于信息不对称，故要求旅行</tspan><tspan x="2197" y="3587.5">社应向旅游者询问并告知旅游者某疾病不适合</tspan><tspan x="2197" y="3606.5">该旅游线路，并将该线路的安全警示规定告知</tspan><tspan x="2197" y="3625.5">旅游者，如旅游经营者未及时询问，旅游者未</tspan><tspan x="2197" y="3644.5">如实告知其身体状况，旅游经营者也应承担相</tspan><tspan x="2197" y="3663.5">应责任。建议旅游经营者在签订旅游合同时，</tspan><tspan x="2197" y="3682.5">如同保险公司签订人寿保险合同一样，制定人</tspan><tspan x="2197" y="3701.5">身健康调查表，并告知哪些疾病不适合参加该</tspan><tspan x="2197" y="3720.5">次旅游项目及旅游活动中的安全警示规定。旅</tspan><tspan x="2197" y="3739.5">游者的告知义务限于旅行社询问的范围和内容</tspan><tspan x="2197" y="3758.5">。</tspan></text>
</g>
<g id="r15">
<rect class="bn" x="1782" y="3894" width="354" height="67" rx="33"/>
<text class="tb"><tspan x="1807" y="3922">十五、旅游者要遵守旅游文明行为</tspan><tspan x="1807" y="3947">规范的提示解读。</tspan></text>
</g>
<g id="r15a">
<rect class="dt" x="2166" y="3804" width="306" height="259" rx="8"/>
<text class="td"><tspan x="2173" y="3824.5">鉴于旅游者在旅游活动中出现的种种不文明行</tspan><tspan x="2173" y="3843.5">为已经引起全社会的关注，并且《旅游法》第</tspan><tspan x="2173" y="3862.5">13条也规定，“旅游者要遵守旅游文明行为</tspan><tspan x="2173" y="3881.5">规范”，因此建议在旅游合同中对于旅游者义</tspan><tspan x="2173" y="3900.5">务的条款也要用加粗加黑的字体特别说明。在</tspan><tspan x="2173" y="3919.5">旅游合同中，建议增加一条旅游者的义务，即</tspan><tspan x="2173" y="3938.5">“旅游者在旅游活动中，要严格遵守《中国公</tspan><tspan x="2173" y="3957.5">民出国(境)旅游文明行为指南》和《中国公民</tspan><tspan x="2173" y="3976.5">国内旅游文明行为公约》，违反《指南》和《</tspan><tspan x="2173" y="3995.5">公约》所产生的法律责任，由旅游者承担。”</tspan><tspan x="2173" y="4014.5">在旅游合同附件中，要把《指南》和《公约》</tspan><tspan x="2173" y="4033.5">的内容列明，以履行旅行社的告知义务，并对</tspan><tspan x="2173" y="4052.5">旅游者产生教育作用。</tspan></text>
</g>

<g id="watermark">
<text class="wm" text-anchor="middle" transform="translate(620,590) rotate(-33)">树图 shutu.cn</text>
<text class="wm" text-anchor="middle" transform="translate(640,1600) rotate(-33)">树图 shutu.cn</text>
<text class="wm" text-anchor="middle" transform="translate(620,2570) rotate(-33)">树图 shutu.cn</text>
<text class="wm" text-anchor="middle" transform="translate(620,3580) rotate(-33)">树图 shutu.cn</text>
<text class="wm" text-anchor="middle" transform="translate(640,4560) rotate(-33)">树图 shutu.cn</text>
<text class="wm" text-anchor="middle" transform="translate(620,5380) rotate(-33)">树图 shutu.cn</text>
<text class="wm" text-anchor="middle" transform="translate(1990,590) rotate(-33)">树图 shutu.cn</text>
<text class="wm" text-anchor="middle" transform="translate(1990,1600) rotate(-33)">树图 shutu.cn</text>
<text class="wm" text-anchor="middle" transform="translate(2000,2570) rotate(-33)">树图 shutu.cn</text>
<text class="wm" text-anchor="middle" transform="translate(1980,3580) rotate(-33)">树图 shutu.cn</text>
<text class="wm" text-anchor="middle" transform="translate(1990,4560) rotate(-33)">树图 shutu.cn</text>
<text class="wm" text-anchor="middle" transform="translate(1990,5380) rotate(-33)">树图 shutu.cn</text>
</g>
</g>
</svg>
